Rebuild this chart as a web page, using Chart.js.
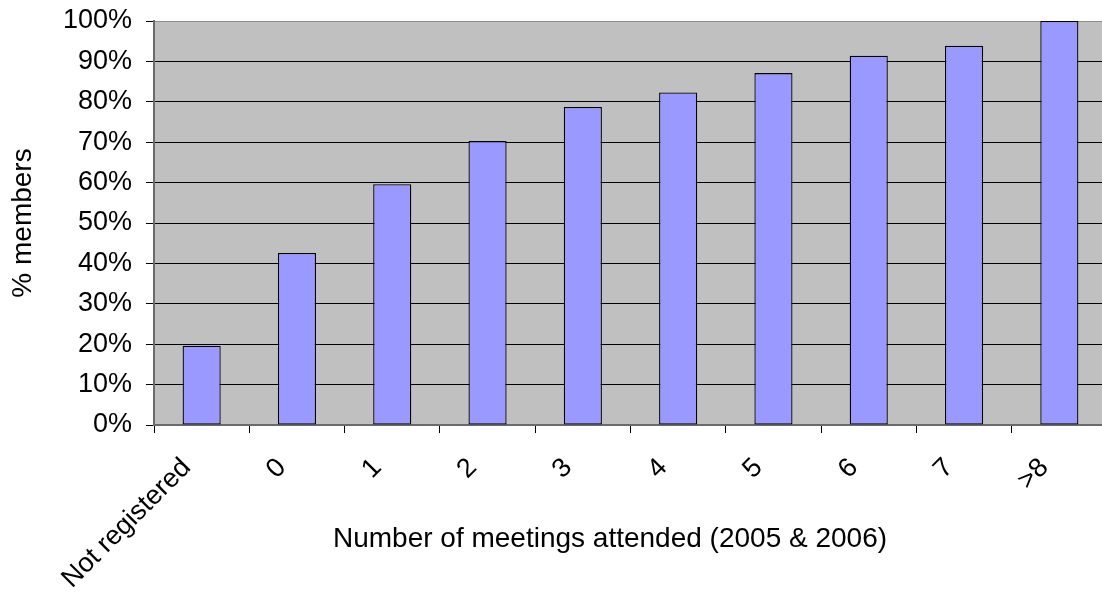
<!DOCTYPE html>
<html>
<head>
<meta charset="utf-8">
<script src="https://cdn.jsdelivr.net/npm/chart.js@4/dist/chart.umd.min.js"></script>
<style>
  html, body { margin: 0; padding: 0; background: #fff; overflow: hidden; width: 1102px; height: 596px; }
  canvas { display: block; }
</style>
</head>
<body>
<canvas id="chart" width="1107" height="596"></canvas>
<script>
// Share of members by number of meetings attended
const categories = ['Not registered', '0', '1', '2', '3', '4', '5', '6', '7', '>8'];
const memberShare = [19.6, 42.6, 59.6, 70.3, 78.7, 82.3, 87.1, 91.4, 93.9, 100];
const yTicks = [0, 10, 20, 30, 40, 50, 60, 70, 80, 90, 100];
const xTitle = 'Number of meetings attended (2005 & 2006)';
const yTitle = '% members';

const FONT = '"Liberation Sans", Arial, Helvetica, sans-serif';
const FONT_SIZE = 27;
const TITLE_SIZE = 28;
Chart.defaults.font.family = FONT;
Chart.defaults.font.size = FONT_SIZE;
Chart.defaults.color = '#000';

// grey plot area behind the bars
const plotBackground = {
  id: 'plotBackground',
  beforeDraw(chart) {
    const { ctx, chartArea: a } = chart;
    ctx.save();
    ctx.fillStyle = '#c0c0c0';
    ctx.fillRect(a.left, a.top, a.right - a.left, a.bottom - a.top);
    ctx.restore();
  }
};

// axis titles
const axisTitles = {
  id: 'axisTitles',
  afterDraw(chart) {
    const { ctx, chartArea: a } = chart;
    ctx.save();
    ctx.fillStyle = '#000';
    ctx.font = TITLE_SIZE + 'px ' + FONT;
    ctx.textAlign = 'center';
    ctx.textBaseline = 'alphabetic';
    ctx.fillText(xTitle, 610, 547);
    ctx.translate(31, (a.top + a.bottom) / 2);
    ctx.rotate(-Math.PI / 2);
    ctx.fillText(yTitle, 0, 0);
    ctx.restore();
  }
};

new Chart(document.getElementById('chart'), {
  type: 'bar',
  data: {
    labels: categories,
    datasets: [{
      data: memberShare,
      backgroundColor: '#9999ff',
      borderColor: '#000',
      borderWidth: 1.3,
      borderSkipped: false,
      barPercentage: 1,
      categoryPercentage: 0.4
    }]
  },
  options: {
    responsive: false,
    animation: false,
    layout: { padding: { top: 21, right: 0, bottom: 0, left: 0 } },
    plugins: { legend: { display: false }, tooltip: { enabled: false } },
    scales: {
      x: {
        offset: true,
        grid: { offset: true, drawOnChartArea: false, drawTicks: true, tickLength: 8, tickColor: '#000', tickWidth: 1 },
        border: { color: '#6b6b6b', width: 2 },
        ticks: { autoSkip: false, minRotation: 45, maxRotation: 45, padding: 19, labelOffset: -15, color: '#000' },
        afterFit(scale) { scale.height = 171; scale.paddingLeft = 0; scale.paddingRight = 0; }
      },
      y: {
        min: 0,
        max: 100,
        afterBuildTicks(scale) { scale.ticks = yTicks.map(v => ({ value: v })); },
        grid: {
          color: (c) => (c.tick && c.tick.value === 100 ? '#8f8f8f' : '#000'),
          lineWidth: 1,
          tickLength: 8,
          tickColor: '#000'
        },
        border: { color: '#6b6b6b', width: 2 },
        ticks: { padding: 14, color: '#000', callback: (v) => v + '%' },
        afterFit(scale) { scale.width = 154; scale.paddingTop = 0; scale.paddingBottom = 0; }
      }
    }
  },
  plugins: [plotBackground, axisTitles]
});
</script>
</body>
</html>
